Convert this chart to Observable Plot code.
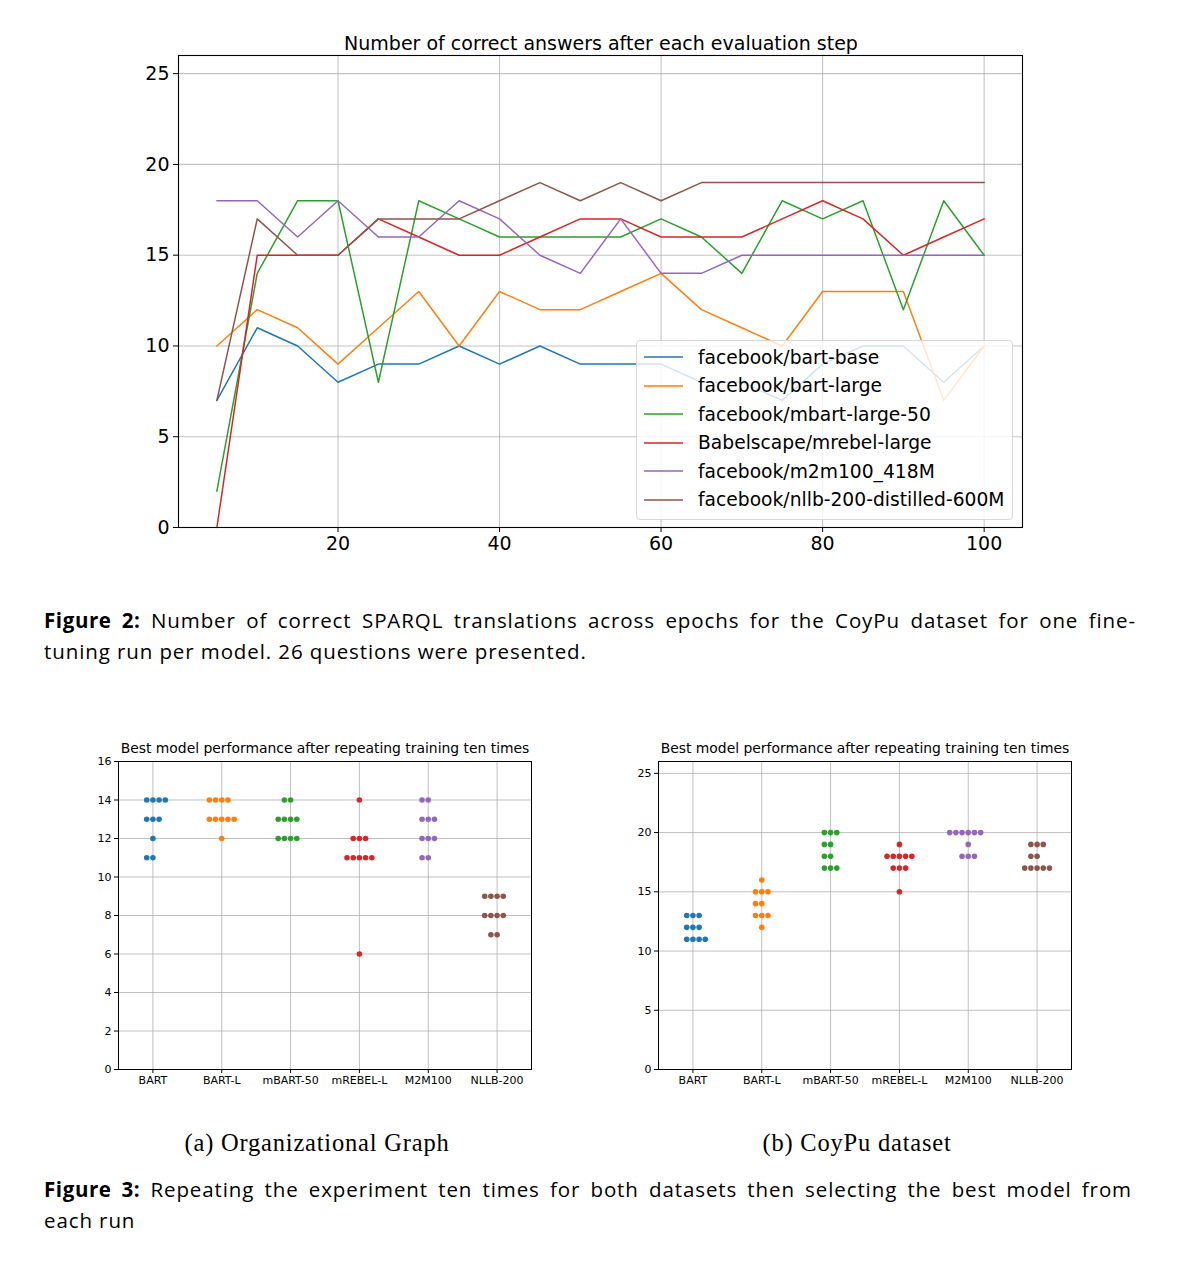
<!DOCTYPE html>
<html>
<head>
<meta charset="utf-8">
<script src="https://cdn.jsdelivr.net/npm/d3@7"></script>
<script src="https://cdn.jsdelivr.net/npm/@observablehq/plot@0.6"></script>
<style>
  html, body { margin: 0; padding: 0; background: #fff; }
  #page { position: relative; width: 1198px; height: 1270px; background: #fff; overflow: hidden; }
  .abs { position: absolute; }
  .mpl-title { font-family: "DejaVu Sans", sans-serif; color: #000; white-space: nowrap; transform: translate(-50%, -50%); }
  .caption { font-family: "Open Sans", Lato, sans-serif; font-size: 20.5px; letter-spacing: 0.9px; line-height: 31px; color: #000; }
  .caption b { font-weight: 700; letter-spacing: 0.6px; }
  .just { text-align: justify; text-align-last: justify; white-space: nowrap; }
  .subcap { font-family: "Liberation Serif", serif; font-size: 24.5px; letter-spacing: 0.8px; color: #000; white-space: nowrap; transform: translate(-50%, -50%); }
  #legend { position: absolute; left: 636px; top: 340px; width: 377px; height: 180px;
            background: rgba(255,255,255,0.8); border: 1px solid #d6d6d6; border-radius: 4px; box-sizing: border-box;
            padding-top: 2px; font-family: "DejaVu Sans", sans-serif; font-size: 18.7px; color: #000; }
  .lrow { height: 28.5px; display: flex; align-items: center; }
  .lsw { display: block; margin-left: 7px; margin-right: 15px; }
</style>
</head>
<body>
<div id="page"></div>
<script>
// ---------- Figure 2 data ----------
const steps = [5, 10, 15, 20, 25, 30, 35, 40, 45, 50, 55, 60, 65, 70, 75, 80, 85, 90, 95, 100];
const models = ["facebook/bart-base", "facebook/bart-large", "facebook/mbart-large-50",
                "Babelscape/mrebel-large", "facebook/m2m100_418M", "facebook/nllb-200-distilled-600M"];
const bartBase   = [7, 11, 10, 8, 9, 9, 10, 9, 10, 9, 9, 9, 8, 8, 7, 9, 10, 10, 8, 10];
const bartLarge  = [10, 12, 11, 9, 11, 13, 10, 13, 12, 12, 13, 14, 12, 11, 10, 13, 13, 13, 7, 10];
const mbartLarge = [2, 14, 18, 18, 8, 18, 17, 16, 16, 16, 16, 17, 16, 14, 18, 17, 18, 12, 18, 15];
const mrebel     = [0, 15, 15, 15, 17, 16, 15, 15, 16, 17, 17, 16, 16, 16, 17, 18, 17, 15, 16, 17];
const m2m100     = [18, 18, 16, 18, 16, 16, 18, 17, 15, 14, 17, 14, 14, 15, 15, 15, 15, 15, 15, 15];
const nllb200    = [7, 17, 15, 15, 17, 17, 17, 18, 19, 18, 19, 18, 19, 19, 19, 19, 19, 19, 19, 19];
const lineXTicks = [20, 40, 60, 80, 100];
const lineYTicks = [0, 5, 10, 15, 20, 25];
const tab10 = ["#1f77b4", "#ff7f0e", "#2ca02c", "#d62728", "#9467bd", "#8c564b"];

// ---------- Figure 3 data ----------
const swarmCategories = ["BART", "BART-L", "mBART-50", "mREBEL-L", "M2M100", "NLLB-200"];
// (a) Organizational Graph
const orgBart    = [14, 14, 14, 14, 13, 13, 13, 12, 11, 11];
const orgBartL   = [14, 14, 14, 14, 13, 13, 13, 13, 13, 12];
const orgMbart   = [14, 14, 13, 13, 13, 13, 12, 12, 12, 12];
const orgMrebel  = [14, 12, 12, 12, 11, 11, 11, 11, 11, 6];
const orgM2m100  = [14, 14, 13, 13, 13, 12, 12, 12, 11, 11];
const orgNllb    = [9, 9, 9, 9, 8, 8, 8, 8, 7, 7];
const orgYTicks  = [0, 2, 4, 6, 8, 10, 12, 14, 16];
// (b) CoyPu dataset
const coyBart    = [13, 13, 13, 12, 12, 12, 11, 11, 11, 11];
const coyBartL   = [16, 15, 15, 15, 14, 14, 13, 13, 13, 12];
const coyMbart   = [20, 20, 20, 19, 19, 18, 18, 17, 17, 17];
const coyMrebel  = [19, 18, 18, 18, 18, 18, 17, 17, 17, 15];
const coyM2m100  = [20, 20, 20, 20, 20, 20, 19, 18, 18, 18];
const coyNllb    = [19, 19, 19, 18, 18, 17, 17, 17, 17, 17];
const coyYTicks  = [0, 5, 10, 15, 20, 25];

const page = document.getElementById("page");
function addEl(tag, cls, css, html) {
  const e = document.createElement(tag);
  e.className = cls;
  Object.assign(e.style, css);
  e.innerHTML = html;
  page.appendChild(e);
  return e;
}

// ---------- Line chart ----------
const seriesList = [bartBase, bartLarge, mbartLarge, mrebel, m2m100, nllb200];
const lineData = seriesList.flatMap((vals, k) => vals.map((v, i) => ({model: models[k], step: steps[i], value: v})));

const lineChart = Plot.plot({
  width: 1198, height: 570,
  marginTop: 55, marginBottom: 43, marginLeft: 178, marginRight: 176,
  style: {fontFamily: "DejaVu Sans, sans-serif", fontSize: "19px", background: "transparent", color: "#000", overflow: "visible"},
  x: {domain: [0.25, 104.75], ticks: lineXTicks, tickSize: 5, tickPadding: 4, label: null},
  y: {domain: [0, 26], ticks: lineYTicks, tickSize: 5, tickPadding: 4, label: null},
  color: {domain: models, range: tab10},
  marks: [
    Plot.ruleX(lineXTicks, {stroke: "#b0b0b0", strokeOpacity: 0.75, strokeWidth: 1.1}),
    Plot.ruleY(lineYTicks, {stroke: "#b0b0b0", strokeOpacity: 0.75, strokeWidth: 1.1}),
    Plot.line(lineData, {x: "step", y: "value", z: "model", stroke: "model", strokeWidth: 1.5}),
    Plot.frame({stroke: "#000", strokeWidth: 1.1})
  ]
});
lineChart.style.position = "absolute";
lineChart.style.left = "0px";
lineChart.style.top = "0px";
page.appendChild(lineChart);

addEl("div", "abs mpl-title", {left: "601px", top: "43px", fontSize: "19px"},
  "Number of correct answers after each evaluation step");

// legend (HTML overlay, semi-transparent like matplotlib)
const legend = document.createElement("div");
legend.id = "legend";
models.forEach((m, k) => {
  const row = document.createElement("div");
  row.className = "lrow";
  row.innerHTML = `<svg class="lsw" width="39" height="4"><line x1="0" y1="2" x2="39" y2="2" stroke="${tab10[k]}" stroke-width="1.5"/></svg><span>${m}</span>`;
  legend.appendChild(row);
});
page.appendChild(legend);

// ---------- Swarm charts ----------
function swarmData(groups) {
  const step = 0.09;
  const out = [];
  groups.forEach((vals, ci) => {
    const counts = d3.rollup(vals, v => v.length, d => d);
    for (const [val, n] of counts) {
      let start;
      if (n % 2 === 1) start = -(n - 1) / 2;
      else start = (ci === 0 && n >= 4) ? -(n / 2 - 1) : -n / 2;
      for (let j = 0; j < n; j++) {
        out.push({cat: swarmCategories[ci], ci, value: val, xpos: ci + (start + j) * step});
      }
    }
  });
  return out;
}

function swarmChart(groups, yMax, yTicks) {
  const data = swarmData(groups);
  const idx = swarmCategories.map((_, i) => i);
  return Plot.plot({
    width: 560, height: 345,
    marginTop: 6, marginBottom: 31, marginLeft: 118, marginRight: 29,
    style: {fontFamily: "DejaVu Sans, sans-serif", fontSize: "11px", background: "transparent", color: "#000", overflow: "visible"},
    x: {domain: [-0.5, 5.5], ticks: idx, tickFormat: i => swarmCategories[i], tickSize: 4, tickPadding: 3, label: null},
    y: {domain: [0, yMax], ticks: yTicks, tickSize: 4, tickPadding: 3, label: null},
    color: {domain: swarmCategories, range: tab10},
    marks: [
      Plot.ruleX(idx, {stroke: "#b0b0b0", strokeOpacity: 0.8, strokeWidth: 1}),
      Plot.ruleY(yTicks, {stroke: "#b0b0b0", strokeOpacity: 0.8, strokeWidth: 1}),
      Plot.dot(data, {x: "xpos", y: "value", fill: "cat", r: 2.8, stroke: "none"}),
      Plot.frame({stroke: "#000", strokeWidth: 1})
    ]
  });
}

const orgChart = swarmChart([orgBart, orgBartL, orgMbart, orgMrebel, orgM2m100, orgNllb], 16, orgYTicks);
Object.assign(orgChart.style, {position: "absolute", left: "0px", top: "755px"});
page.appendChild(orgChart);

const coyChart = swarmChart([coyBart, coyBartL, coyMbart, coyMrebel, coyM2m100, coyNllb], 26, coyYTicks);
Object.assign(coyChart.style, {position: "absolute", left: "540px", top: "755px"});
page.appendChild(coyChart);

addEl("div", "abs mpl-title", {left: "325px", top: "748px", fontSize: "13.9px"},
  "Best model performance after repeating training ten times");
addEl("div", "abs mpl-title", {left: "865px", top: "748px", fontSize: "13.9px"},
  "Best model performance after repeating training ten times");

// ---------- Captions ----------
addEl("div", "abs caption just", {left: "44px", top: "605px", width: "1092px"},
  "<b>Figure 2:</b> Number of correct SPARQL translations across epochs for the CoyPu dataset for one fine-");
addEl("div", "abs caption", {left: "44px", top: "636px"},
  "tuning run per model. 26 questions were presented.");

addEl("div", "abs subcap", {left: "317px", top: "1143px"}, "(a) Organizational Graph");
addEl("div", "abs subcap", {left: "857px", top: "1143px"}, "(b) CoyPu dataset");

addEl("div", "abs caption just", {left: "44px", top: "1174px", width: "1088px"},
  "<b>Figure 3:</b> Repeating the experiment ten times for both datasets then selecting the best model from");
addEl("div", "abs caption", {left: "44px", top: "1205px"}, "each run");
</script>
</body>
</html>
